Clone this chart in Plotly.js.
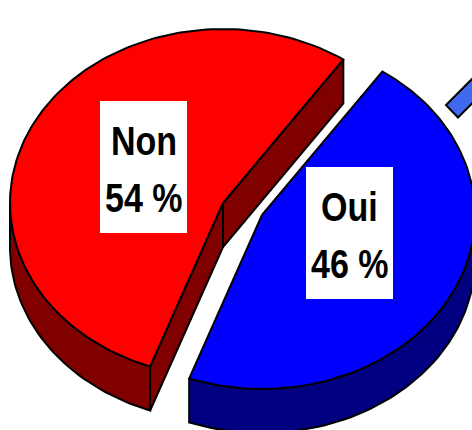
<!DOCTYPE html>
<html>
<head>
<meta charset="utf-8">
<script src="https://cdn.plot.ly/plotly-3.0.1.min.js"></script>
<style>
html,body{margin:0;padding:0;background:#fff;}
#chart{width:472px;height:430px;}
.annotation-text{transform-box:fill-box;transform-origin:center;transform:scaleX(0.83);}
</style>
</head>
<body>
<div id="chart"></div>
<script>
// ---- data ----
const labels = ['Non', 'Oui'];
const values = [54, 46];
const topColors = ['#FF0000', '#0000FF'];
const sideColors = ['#800000', '#000080'];

// ---- style / geometry ----
const W = 472, H = 430;
const base = {cx: 223, cy: 203, rx: 213, ry: 174, depth: 44, startAngle: 55.6};
const offsets = [[0, 0], [39, 12]];            // explode offsets (px)
const labelPos = [[143.5, 167], [349.5, 233]]; // label box centres (px)
const labelBox = {w: 87, h: 132};
const lineDy = [-26, 31];                       // text line centres relative to box centre
const lineStyle = {color: '#000000', width: 2};
const labelFont = {family: "'Liberation Sans', Arial, sans-serif", size: 41, color: '#000000', weight: 'bold'};

const total = values.reduce((a, b) => a + b, 0);
const rad = d => d * Math.PI / 180;

function arcPts(c, t0, t1, dy) {
  const n = Math.max(2, Math.ceil(Math.abs(t1 - t0) / 1.5));
  const xs = [], ys = [];
  for (let k = 0; k <= n; k++) {
    const t = t0 + (t1 - t0) * k / n;
    xs.push(c.cx + base.rx * Math.cos(rad(t)));
    ys.push(c.cy - base.ry * Math.sin(rad(t)) + dy);
  }
  return {xs, ys};
}

function poly(xs, ys, fill) {
  return {
    type: 'scatter', mode: 'lines', x: xs.concat([xs[0]]), y: ys.concat([ys[0]]),
    fill: 'toself', fillcolor: fill, line: lineStyle, hoverinfo: 'skip', showlegend: false
  };
}

const traces = [];
let acc = 0;
values.forEach((v, i) => {
  const t0 = base.startAngle + acc / total * 360;
  const t1 = base.startAngle + (acc + v) / total * 360;
  acc += v;
  const c = {cx: base.cx + offsets[i][0], cy: base.cy + offsets[i][1]};
  const D = base.depth;

  // curved front wall: visible parts of [t0,t1] within [180,360] (+k*360)
  for (let k = -1; k <= 1; k++) {
    const a = Math.max(t0, 180 + 360 * k), b = Math.min(t1, 360 + 360 * k);
    if (b > a) {
      const top = arcPts(c, a, b, 0), bot = arcPts(c, a, b, D);
      traces.push(poly(top.xs.concat(bot.xs.reverse()), top.ys.concat(bot.ys.reverse()), sideColors[i]));
    }
  }
  // flat cut faces
  const faceAt = t => {
    const ex = c.cx + base.rx * Math.cos(rad(t)), ey = c.cy - base.ry * Math.sin(rad(t));
    traces.push(poly([c.cx, ex, ex, c.cx], [c.cy, ey, ey + D, c.cy + D], sideColors[i]));
  };
  if (Math.cos(rad(t0)) > 0) faceAt(t0);
  if (Math.cos(rad(t1)) < 0) faceAt(t1);

  // top face
  const arc = arcPts(c, t0, t1, 0);
  traces.push(poly([c.cx].concat(arc.xs), [c.cy].concat(arc.ys), topColors[i]));
});

const shapes = labels.map((l, i) => ({
  type: 'rect', xref: 'x', yref: 'y',
  x0: labelPos[i][0] - labelBox.w / 2, x1: labelPos[i][0] + labelBox.w / 2,
  y0: labelPos[i][1] - labelBox.h / 2, y1: labelPos[i][1] + labelBox.h / 2,
  fillcolor: '#FFFFFF', line: {width: 0}
}));
shapes.push({
  type: 'path', xref: 'x', yref: 'y',
  path: 'M446,105 L458,117.5 L490,85.5 L478,73 Z',
  fillcolor: '#4169F0', line: {color: '#000000', width: 2}
});

const annotations = [];
labels.forEach((l, i) => {
  [l, values[i] + ' %'].forEach((txt, j) => {
    annotations.push({
      x: labelPos[i][0], y: labelPos[i][1] + lineDy[j], xref: 'x', yref: 'y',
      text: txt, showarrow: false, xanchor: 'center', yanchor: 'middle',
      font: labelFont
    });
  });
});

const layout = {
  width: W, height: H,
  margin: {l: 0, r: 0, t: 0, b: 0, pad: 0},
  paper_bgcolor: '#FFFFFF', plot_bgcolor: '#FFFFFF',
  xaxis: {range: [0, W], visible: false, fixedrange: true},
  yaxis: {range: [H, 0], visible: false, fixedrange: true},
  showlegend: false,
  annotations: annotations,
  shapes: shapes
};

Plotly.newPlot('chart', traces, layout, {displayModeBar: false, staticPlot: true});
</script>
</body>
</html>
